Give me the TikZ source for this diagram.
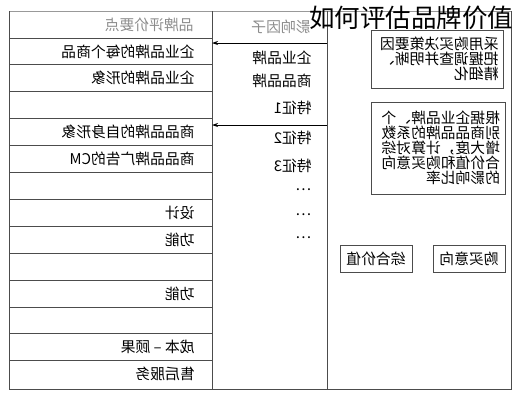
\documentclass[tikz,border=0pt]{standalone}
\usepackage{fontspec}
\setmainfont{Noto Sans CJK SC}
\usetikzlibrary{arrows.meta}

\begin{document}
\begin{tikzpicture}[x=1pt,y=-1pt,line width=0.8pt,
    font=\fontsize{14.8}{15}\selectfont,
    flip/.style={xscale=-1,inner sep=0pt,anchor=west}]
    \useasboundingbox (0,0) rectangle (516,400);
    % frame and table
    \draw[black!40] (9,11) -- (511,11);
    \draw[black!70] (9,11) -- (9,389) -- (511,389) -- (511,11);
    \draw[black!70] (212,11) -- (212,389);
    \draw[black!70] (327,11) -- (327,389);
    \foreach \k in {1,...,13}{
      \draw[black!70] (9,{11+26.9*\k}) -- (212,{11+26.9*\k});
    }
    % left column
    \node[flip,black!45] (h0) at (194,25) {品牌评价要点};
    \foreach \k/\t in {1/企业品牌的每个商品,2/企业品牌的形象,4/商品品牌的自身形象,
      5/商品品牌广告的CM,7/设计,8/功能,10/功能,12/成本 – 顾果,13/售后服务}{
      \node[flip] (r\k) at (195,{11+26.9*(\k+0.5)}) {\t};
    }
    % middle column
    \node[flip,black!45] (m0) at (311,27) {影响因子};
    \foreach \y/\t [count=\i] in {58/企业品牌,81/商品品牌,108/特征1,138/特征2,
      166/特征3,190/…,215/…,238/…}{
      \node[flip] (f\i) at (312,\y) {\t};
    }
    \coordinate (a1) at (327,43);
    \coordinate (b1) at (212,43);
    \coordinate (a2) at (327,125);
    \coordinate (b2) at (212,125);
    \draw[-{Stealth[length=6pt,width=4pt]}] (a1) -- (b1);
    \draw[-{Stealth[length=6pt,width=4pt]}] (a2) -- (b2);
    % right column
    \node[flip,draw=black!70,anchor=center,minimum width=132pt,minimum height=58pt,
      text width=122pt,align=left] (ba) at (437.5,59)
      {采用购买决策要因\\把握调查并明晰、\\精细化};
    \node[flip,draw=black!70,anchor=center,minimum width=134pt,minimum height=92pt,
      text width=124pt,align=left] (bb) at (438,148)
      {根据企业品牌、个\\别商品品牌的系数\\增大度，计算对综\\合价值和购买意向\\的影响比率};
    \node[flip,draw=black!70,anchor=center,minimum width=72pt,minimum height=27pt]
      (zh) at (376,258.5) {综合价值};
    \node[flip,draw=black!70,anchor=center,minimum width=72pt,minimum height=27pt]
      (gm) at (469,258.5) {购买意向};
    % title
    \node[font=\fontsize{25.5}{26}\selectfont,inner sep=0pt] (title) at (411,18)
      {如何评估品牌价值};
\end{tikzpicture}
\end{document}
